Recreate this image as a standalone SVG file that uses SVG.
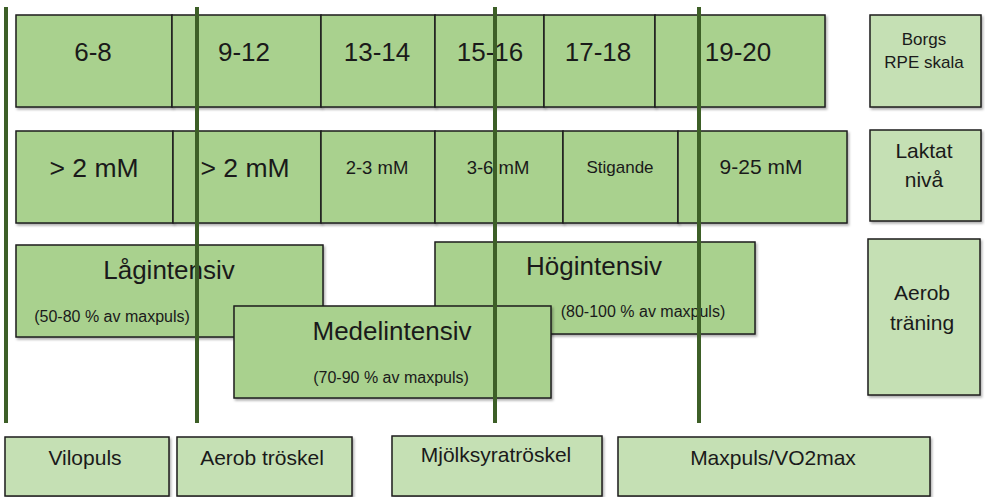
<svg xmlns="http://www.w3.org/2000/svg" width="985" height="497" viewBox="0 0 985 497">
<defs>
<filter id="sh" x="-5%" y="-5%" width="115%" height="120%">
<feDropShadow dx="1.5" dy="2" stdDeviation="1.2" flood-color="#000" flood-opacity="0.3"/>
</filter>
<style>
.d{fill:#a9d18e;stroke:#1e1e1e;stroke-width:1.5;filter:url(#sh)}
.l{fill:#c5e0b4;stroke:#1e1e1e;stroke-width:1.5;filter:url(#sh)}
text{font-family:"Liberation Sans",Arial,sans-serif;fill:#1a1a1a;text-anchor:middle}
.big{font-size:26px}
.gt{font-size:26.5px}
.med{font-size:18.5px}
.lab{font-size:21px}
.sm{font-size:17px}
.xs{font-size:16px}
.vl{stroke:#3d5f27;stroke-width:4;fill:none}
</style>
</defs>
<rect width="985" height="497" fill="#fff"/>
<g id="rpe">
<rect class="d" x="16" y="15" width="156" height="92"/>
<rect class="d" x="172" y="15" width="149" height="92"/>
<rect class="d" x="321" y="15" width="114" height="92"/>
<rect class="d" x="435" y="15" width="109" height="92"/>
<rect class="d" x="544" y="15" width="111" height="92"/>
<rect class="d" x="655" y="15" width="170" height="92"/>
<text class="big" x="93" y="61">6-8</text>
<text class="big" x="244" y="61">9-12</text>
<text class="big" x="377" y="61">13-14</text>
<text class="big" x="490" y="61">15-16</text>
<text class="big" x="598" y="61">17-18</text>
<text class="big" x="738" y="61">19-20</text>
</g>
<g id="borgs">
<rect class="l" x="870" y="15" width="111" height="92"/>
<text class="sm" x="924" y="45">Borgs</text>
<text class="sm" x="924" y="68">RPE skala</text>
</g>
<g id="laktat-row">
<rect class="d" x="16" y="131" width="157" height="92"/>
<rect class="d" x="173" y="131" width="148" height="92"/>
<rect class="d" x="321" y="131" width="114" height="92"/>
<rect class="d" x="435" y="131" width="128" height="92"/>
<rect class="d" x="563" y="131" width="115" height="92"/>
<rect class="d" x="678" y="131" width="169" height="92"/>
<text class="gt" x="94" y="177">&gt; 2 mM</text>
<text class="gt" x="245" y="177">&gt; 2 mM</text>
<text class="med" x="377" y="174">2-3 mM</text>
<text class="med" x="498" y="174">3-6 mM</text>
<text class="sm" x="620" y="173">Stigande</text>
<text class="lab" x="761" y="174">9-25 mM</text>
</g>
<g id="laktat">
<rect class="l" x="870" y="130" width="111" height="91"/>
<text class="lab" x="924" y="158">Laktat</text>
<text class="lab" x="924" y="187">nivå</text>
</g>
<g id="lagintensiv">
<rect class="d" x="16" y="245" width="307" height="92"/>
<text class="big" x="169" y="279">Lågintensiv</text>
<text class="xs" x="112" y="322">(50-80 % av maxpuls)</text>
</g>
<g id="hogintensiv">
<rect class="d" x="435" y="242" width="320" height="92"/>
<text class="big" x="594" y="275">Högintensiv</text>
<text class="xs" x="643" y="317">(80-100 % av maxpuls)</text>
</g>
<g id="medelintensiv">
<rect class="d" x="234" y="306" width="317" height="92"/>
<text class="big" x="392" y="340">Medelintensiv</text>
<text class="xs" x="391" y="383">(70-90 % av maxpuls)</text>
</g>
<g id="aerob-traning">
<rect class="l" x="868" y="239" width="112" height="156"/>
<text class="lab" x="922" y="300">Aerob</text>
<text class="lab" x="922" y="330">träning</text>
</g>
<g id="vilopuls">
<rect class="l" x="5" y="437" width="164" height="59"/>
<text class="lab" x="85" y="465">Vilopuls</text>
</g>
<g id="aerob-troskel">
<rect class="l" x="177" y="437" width="175" height="59"/>
<text class="lab" x="262" y="465">Aerob tröskel</text>
</g>
<g id="mjolksyratroskel">
<rect class="l" x="392" y="436" width="210" height="60"/>
<text class="lab" x="496" y="462">Mjölksyratröskel</text>
</g>
<g id="maxpuls">
<rect class="l" x="618" y="437" width="312" height="59"/>
<text class="lab" x="773" y="465">Maxpuls/VO2max</text>
</g>
<g id="connectors">
<line class="vl" x1="6" y1="7" x2="6" y2="423"/>
<line class="vl" x1="197" y1="7" x2="197" y2="423"/>
<line class="vl" x1="495" y1="7" x2="495" y2="423"/>
<line class="vl" x1="699" y1="7" x2="699" y2="423"/>
</g>
</svg>
